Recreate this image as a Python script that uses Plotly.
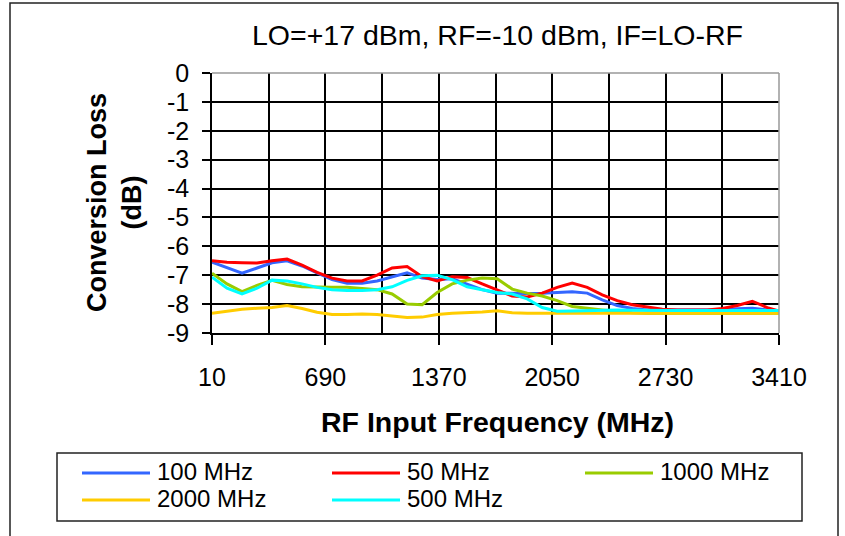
import plotly.graph_objects as go

# ---- data ----
freq = [10, 100, 190, 280, 370, 460, 550, 640, 730, 820, 910, 1000, 1090, 1180, 1270,
        1360, 1450, 1540, 1630, 1720, 1810, 1900, 1990, 2080, 2170, 2260, 2350, 2440,
        2530, 2620, 2710, 2800, 2890, 2980, 3070, 3160, 3250, 3340, 3410]

loss_100 = [-6.55, -6.75, -6.93, -6.75, -6.57, -6.50, -6.68, -6.92, -7.15, -7.28, -7.28,
            -7.20, -7.05, -6.92, -7.10, -7.15, -7.12, -7.30, -7.50, -7.62, -7.63, -7.63,
            -7.62, -7.60, -7.57, -7.62, -7.85, -8.05, -8.15, -8.20, -8.20, -8.20, -8.20,
            -8.20, -8.20, -8.16, -8.14, -8.20, -8.24]

loss_50 = [-6.50, -6.55, -6.57, -6.58, -6.50, -6.44, -6.65, -6.90, -7.10, -7.20, -7.20,
           -7.00, -6.75, -6.70, -7.05, -7.20, -7.05, -7.08, -7.30, -7.52, -7.72, -7.75,
           -7.62, -7.42, -7.27, -7.42, -7.68, -7.88, -8.02, -8.10, -8.18, -8.20, -8.20,
           -8.20, -8.15, -8.05, -7.90, -8.12, -8.24]

loss_1000 = [-6.93, -7.30, -7.57, -7.35, -7.18, -7.32, -7.40, -7.42, -7.42, -7.42, -7.45,
             -7.50, -7.65, -8.00, -8.02, -7.60, -7.30, -7.17, -7.10, -7.12, -7.48, -7.62,
             -7.72, -7.88, -8.08, -8.15, -8.20, -8.25, -8.30, -8.32, -8.32, -8.32, -8.32,
             -8.32, -8.32, -8.32, -8.32, -8.32, -8.32]

loss_2000 = [-8.32, -8.25, -8.18, -8.14, -8.12, -8.05, -8.15, -8.28, -8.36, -8.36, -8.34,
             -8.36, -8.42, -8.46, -8.45, -8.36, -8.32, -8.30, -8.27, -8.23, -8.30, -8.32,
             -8.32, -8.32, -8.32, -8.32, -8.32, -8.32, -8.32, -8.32, -8.32, -8.32, -8.32,
             -8.32, -8.32, -8.32, -8.32, -8.32, -8.32]

loss_500 = [-7.07, -7.45, -7.65, -7.45, -7.17, -7.20, -7.30, -7.42, -7.50, -7.53, -7.53,
            -7.50, -7.40, -7.18, -7.02, -7.00, -7.15, -7.40, -7.50, -7.60, -7.65, -7.82,
            -8.12, -8.25, -8.24, -8.22, -8.20, -8.20, -8.21, -8.22, -8.22, -8.22, -8.22,
            -8.22, -8.22, -8.22, -8.22, -8.22, -8.22]

series_names = ["100 MHz", "50 MHz", "1000 MHz", "2000 MHz", "500 MHz"]
series_values = [loss_100, loss_50, loss_1000, loss_2000, loss_500]
series_colors = ["#3366FF", "#FF0000", "#99CC00", "#FFCC00", "#00FFFF"]

y_tick_vals = [0, -1, -2, -3, -4, -5, -6, -7, -8, -9]
y_tick_text = ["0", "-1", "-2", "-3", "-4", "-5", "-6", "-7", "-8", "-9"]
x_tick_vals = [10, 690, 1370, 2050, 2730, 3410]

title_text = "LO=+17 dBm, RF=-10 dBm, IF=LO-RF"
x_title = "RF Input Frequency (MHz)"
y_title = "Conversion Loss<br>(dB)"

# ---- layout geometry ----
W, H = 845, 536
L, R, T, B = 212, 66, 73, 203
PW, PH = W - L - R, H - T - B
FONT = "Liberation Sans, Arial, sans-serif"


def px(x):
    return (x - L) / PW


def py(y):
    return (H - B - y) / PH


fig = go.Figure()
for name, vals, col in zip(series_names, series_values, series_colors):
    fig.add_trace(go.Scatter(x=freq, y=vals, mode="lines", name=name,
                             line=dict(color=col, width=3), showlegend=False))

fig.update_layout(
    width=W, height=H,
    margin=dict(l=L, r=R, t=T, b=B),
    paper_bgcolor="white", plot_bgcolor="white",
    font=dict(family=FONT, color="black"),
)

fig.update_xaxes(
    range=[10, 3410], tickvals=x_tick_vals, ticktext=[str(v) for v in x_tick_vals],
    showgrid=True, gridcolor="black", gridwidth=1.5,
    minor=dict(dtick=340, tick0=10, showgrid=True, gridcolor="black", gridwidth=1.5),
    showline=True, linecolor="black", linewidth=1.5,
    ticks="outside", ticklen=10, tickcolor="black", tickwidth=1.5,
    tickfont=dict(size=25, family=FONT), ticklabelstandoff=11,
    zeroline=False,
)
fig.update_yaxes(
    range=[-9, 0], tickvals=y_tick_vals, ticktext=y_tick_text,
    showgrid=True, gridcolor="black", gridwidth=1.5,
    showline=True, linecolor="black", linewidth=1.5,
    ticks="outside", ticklen=8, tickcolor="black", tickwidth=1.5,
    tickfont=dict(size=25, family=FONT), ticklabelstandoff=8,
    zeroline=False,
)

shapes = []
# gray plot border on top and right
shapes.append(dict(type="line", xref="paper", yref="paper", x0=0, x1=1, y0=1, y1=1,
                   line=dict(color="#999999", width=1.5)))
shapes.append(dict(type="line", xref="paper", yref="paper", x0=1, x1=1, y0=0, y1=1,
                   line=dict(color="#999999", width=1.5)))
# outer chart frame
shapes.append(dict(type="rect", xref="paper", yref="paper",
                   x0=px(10), x1=px(838), y0=py(545), y1=py(3),
                   line=dict(color="#222222", width=1.5)))
# legend frame
shapes.append(dict(type="rect", xref="paper", yref="paper",
                   x0=px(57), x1=px(802), y0=py(521), y1=py(453),
                   line=dict(color="#222222", width=1.5)))

annotations = []
col_x = [82, 332, 585]
row_y = [473, 500]
for i, (name, col) in enumerate(zip(series_names, series_colors)):
    r, c = divmod(i, 3)
    x0 = col_x[c]
    y0 = row_y[r]
    shapes.append(dict(type="line", xref="paper", yref="paper",
                       x0=px(x0), x1=px(x0 + 68), y0=py(y0), y1=py(y0),
                       line=dict(color=col, width=3)))
    annotations.append(dict(xref="paper", yref="paper", x=px(x0 + 73), y=py(y0 - 2),
                            text=name, showarrow=False, xanchor="left", yanchor="middle",
                            font=dict(size=24, family=FONT)))

annotations.append(dict(xref="paper", yref="paper", x=px(497), y=py(35), text=title_text,
                        showarrow=False, xanchor="center", yanchor="middle",
                        font=dict(size=28.5, family=FONT)))
annotations.append(dict(xref="paper", yref="paper", x=px(497), y=py(422), text="<b>" + x_title + "</b>",
                        showarrow=False, xanchor="center", yanchor="middle",
                        font=dict(size=28.5, family=FONT)))
annotations.append(dict(xref="paper", yref="paper", x=px(114), y=0.5, text="<b>" + y_title + "</b>",
                        showarrow=False, xanchor="center", yanchor="middle", textangle=-90,
                        font=dict(size=27, family=FONT)))

fig.update_layout(shapes=shapes, annotations=annotations)

fig.write_html("out.html", post_script="document.body.style.margin='0';",
               config={"displayModeBar": False})
